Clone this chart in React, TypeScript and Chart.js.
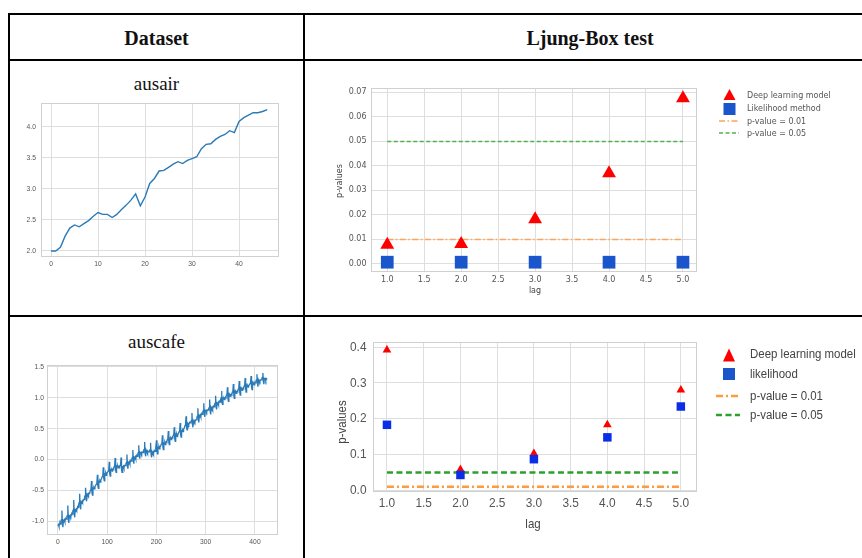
import React, { useEffect, useRef } from "react";
import { Chart, registerables } from "chart.js";
Chart.register(...registerables);

// ---------- data ----------
const ausairValues = [2.0, 2.0, 2.06, 2.24, 2.37, 2.42, 2.39, 2.44, 2.49, 2.56, 2.62, 2.59, 2.59, 2.54, 2.59, 2.67, 2.74, 2.82, 2.92, 2.73, 2.87, 3.09, 3.17, 3.29, 3.3, 3.35, 3.4, 3.44, 3.41, 3.46, 3.49, 3.52, 3.65, 3.72, 3.73, 3.8, 3.85, 3.88, 3.94, 3.91, 4.09, 4.15, 4.19, 4.23, 4.23, 4.25, 4.28];
const ausairXTicks = [0, 10, 20, 30, 40];
const ausairYTicks = [2.0, 2.5, 3.0, 3.5, 4.0];

const auscafeValues = [
  -1.08, -1.06, -1.09, -1.05, -1.03, -1.05, -1.0, -0.98, -0.83, -1.05, -1.1, -0.99,
  -1.0, -0.98, -1.01, -0.97, -0.96, -0.97, -0.93, -0.91, -0.75, -0.98, -1.03, -0.92,
  -0.93, -0.91, -0.93, -0.9, -0.88, -0.89, -0.84, -0.82, -0.66, -0.89, -0.94, -0.82,
  -0.83, -0.81, -0.83, -0.79, -0.77, -0.78, -0.73, -0.7, -0.56, -0.76, -0.81, -0.69,
  -0.7, -0.68, -0.7, -0.66, -0.65, -0.65, -0.61, -0.59, -0.46, -0.64, -0.68, -0.57,
  -0.58, -0.56, -0.58, -0.55, -0.54, -0.54, -0.5, -0.48, -0.35, -0.54, -0.58, -0.47,
  -0.48, -0.46, -0.48, -0.44, -0.43, -0.43, -0.4, -0.38, -0.25, -0.43, -0.47, -0.36,
  -0.37, -0.35, -0.37, -0.33, -0.32, -0.32, -0.28, -0.26, -0.13, -0.31, -0.35, -0.24,
  -0.25, -0.23, -0.26, -0.22, -0.22, -0.22, -0.19, -0.17, -0.04, -0.23, -0.27, -0.17,
  -0.18, -0.17, -0.19, -0.16, -0.15, -0.16, -0.12, -0.11, 0.02, -0.17, -0.21, -0.11,
  -0.12, -0.11, -0.14, -0.11, -0.11, -0.12, -0.1, -0.09, 0.03, -0.16, -0.21, -0.11,
  -0.13, -0.11, -0.14, -0.1, -0.1, -0.1, -0.07, -0.05, 0.08, -0.11, -0.15, -0.05,
  -0.06, -0.04, -0.07, -0.03, -0.02, -0.03, 0.01, 0.03, 0.15, -0.03, -0.07, 0.03,
  0.02, 0.04, 0.01, 0.05, 0.06, 0.05, 0.09, 0.11, 0.23, 0.05, 0.01, 0.11,
  0.1, 0.11, 0.09, 0.12, 0.12, 0.11, 0.15, 0.16, 0.28, 0.09, 0.05, 0.15,
  0.13, 0.14, 0.11, 0.13, 0.13, 0.12, 0.15, 0.15, 0.27, 0.08, 0.03, 0.12,
  0.1, 0.12, 0.09, 0.13, 0.14, 0.13, 0.17, 0.19, 0.31, 0.13, 0.09, 0.19,
  0.18, 0.2, 0.17, 0.21, 0.21, 0.21, 0.25, 0.26, 0.39, 0.2, 0.16, 0.26,
  0.25, 0.27, 0.24, 0.28, 0.29, 0.28, 0.32, 0.34, 0.46, 0.28, 0.24, 0.34,
  0.33, 0.34, 0.32, 0.35, 0.36, 0.35, 0.39, 0.4, 0.52, 0.34, 0.29, 0.4,
  0.38, 0.4, 0.37, 0.41, 0.41, 0.41, 0.45, 0.46, 0.59, 0.4, 0.36, 0.46,
  0.45, 0.47, 0.45, 0.49, 0.5, 0.5, 0.55, 0.57, 0.7, 0.52, 0.48, 0.59,
  0.58, 0.59, 0.56, 0.6, 0.6, 0.59, 0.62, 0.63, 0.75, 0.57, 0.52, 0.62,
  0.6, 0.62, 0.6, 0.64, 0.64, 0.64, 0.68, 0.7, 0.83, 0.65, 0.6, 0.71,
  0.7, 0.72, 0.69, 0.73, 0.74, 0.73, 0.77, 0.79, 0.91, 0.73, 0.69, 0.79,
  0.78, 0.79, 0.77, 0.8, 0.8, 0.8, 0.83, 0.84, 0.97, 0.78, 0.73, 0.84,
  0.82, 0.84, 0.81, 0.85, 0.86, 0.85, 0.89, 0.91, 1.03, 0.85, 0.81, 0.91,
  0.9, 0.92, 0.89, 0.93, 0.94, 0.93, 0.97, 0.99, 1.11, 0.93, 0.89, 0.99,
  0.98, 0.99, 0.97, 1.0, 1.01, 1.0, 1.04, 1.05, 1.17, 0.99, 0.94, 1.05,
  1.03, 1.04, 1.02, 1.05, 1.06, 1.05, 1.09, 1.1, 1.22, 1.04, 0.99, 1.1,
  1.08, 1.09, 1.07, 1.1, 1.11, 1.1, 1.14, 1.15, 1.27, 1.09, 1.04, 1.15,
  1.13, 1.14, 1.12, 1.15, 1.16, 1.15, 1.19, 1.2, 1.32, 1.14, 1.09, 1.2,
  1.18, 1.19, 1.17, 1.2, 1.2, 1.2, 1.23, 1.24, 1.35, 1.18, 1.13, 1.24,
  1.22, 1.23, 1.21, 1.24, 1.25, 1.24, 1.28, 1.29, 1.38, 1.23, 1.18, 1.29,
  1.27, 1.28, 1.26, 1.29, 1.29, 1.29, 1.32, 1.33, 1.4, 1.26, 1.22, 1.31,
  1.3, 1.31, 1.28, 1.31, 1.31, 1.3,
];
const auscafeXTicks = [0, 100, 200, 300, 400];
const auscafeYTicks = [-1.0, -0.5, 0.0, 0.5, 1.0, 1.5];

const lags = [1.0, 2.0, 3.0, 4.0, 5.0];
const lagTicks = [1.0, 1.5, 2.0, 2.5, 3.0, 3.5, 4.0, 4.5, 5.0];
const ausairDeep = [0.0078, 0.0081, 0.0182, 0.037, 0.0676];
const ausairLikelihood = [0.0007, 0.0007, 0.0007, 0.0007, 0.0007];
const ausairPTicks = [0.0, 0.01, 0.02, 0.03, 0.04, 0.05, 0.06, 0.07];
const auscafeDeep = [0.392, 0.058, 0.103, 0.183, 0.28];
const auscafeLikelihood = [0.183, 0.043, 0.087, 0.148, 0.234];
const auscafePTicks = [0.0, 0.1, 0.2, 0.3, 0.4];
const pLevels = [0.01, 0.05];

// ---------- styles ----------
const GRID = "#dedede";
const TICK = "#555555";
const RED = "#ff0000";
const BLUE1 = "#1a55cc";
const BLUE2 = "#0a2ee8";
const ORANGE = "#ff9a40";
const GREEN = "#2ca02c";
const SANS = '"Liberation Sans", Arial, sans-serif';
const DEJAVU = '"DejaVu Sans", sans-serif';
const SERIF = '"Liberation Serif", "Times New Roman", serif';

const framePlugin = {
  id: "frame",
  beforeDatasetsDraw(chart: any) {
    const { ctx, chartArea: a } = chart;
    ctx.save();
    ctx.strokeStyle = "#d0d0d0";
    ctx.lineWidth = 1;
    ctx.strokeRect(Math.round(a.left) + 0.5, Math.round(a.top) + 0.5, Math.round(a.right - a.left) - 1, Math.round(a.bottom - a.top) - 1);
    ctx.restore();
  },
};

// draws tick labels and axis titles with an optional horizontal condensing factor
const textPlugin = {
  id: "axisText",
  afterDraw(chart: any, _args: any, o: any) {
    const { ctx, chartArea: a, scales } = chart;
    const k = o.k ?? 1;
    ctx.save();
    ctx.fillStyle = TICK;
    ctx.font = `${o.size}px ${o.family}`;
    ctx.textAlign = "center";
    ctx.textBaseline = "middle";
    for (const t of scales.x.ticks) {
      const px = scales.x.getPixelForValue(t.value);
      ctx.save();
      ctx.translate(px, a.bottom + o.xOff);
      ctx.scale(k, 1);
      ctx.fillText(Number(t.value).toFixed(o.xDec), 0, 0);
      ctx.restore();
    }
    ctx.textAlign = "right";
    for (const t of scales.y.ticks) {
      const py = scales.y.getPixelForValue(t.value);
      ctx.save();
      ctx.translate(a.left - o.yOff, py);
      ctx.scale(k, 1);
      ctx.fillText(Number(t.value).toFixed(o.yDec), 0, 0);
      ctx.restore();
    }
    ctx.fillStyle = "#444";
    ctx.textAlign = "center";
    if (o.xTitle) {
      ctx.font = `${o.titleSize}px ${o.family}`;
      ctx.save();
      ctx.translate(o.xTitle.x, o.xTitle.y);
      ctx.scale(o.tk ?? k, 1);
      ctx.fillText(o.xTitle.text, 0, 0);
      ctx.restore();
    }
    if (o.yTitle) {
      ctx.font = `${o.titleSize}px ${o.family}`;
      ctx.save();
      ctx.translate(o.yTitle.x, o.yTitle.y);
      ctx.rotate(-Math.PI / 2);
      ctx.scale(o.tk ?? k, 1);
      ctx.fillText(o.yTitle.text, 0, 0);
      ctx.restore();
    }
    ctx.restore();
  },
};

function axis(min: number, max: number, ticks: number[], fit: { width?: number; height?: number }) {
  return {
    type: "linear",
    min,
    max,
    afterBuildTicks: (s: any) => {
      s.ticks = ticks.map((v: number) => ({ value: v }));
    },
    afterFit: (s: any) => {
      if (fit.width !== undefined) s.width = fit.width;
      if (fit.height !== undefined) s.height = fit.height;
    },
    ticks: { display: false },
    grid: { color: GRID, drawTicks: false, lineWidth: 1 },
    border: { display: false },
    title: { display: false },
  };
}

function baseOptions(pad: any, x: any, y: any, text: any) {
  return {
    responsive: false,
    animation: false,
    events: [],
    layout: { padding: pad },
    plugins: { legend: { display: false }, tooltip: { enabled: false }, title: { display: false }, axisText: text },
    scales: { x, y },
  };
}

function seriesLine(values: number[], width: number) {
  return {
    data: values.map((v, i) => ({ x: i, y: v })),
    showLine: true,
    borderColor: "#2a7ab8",
    borderWidth: width,
    pointRadius: 0,
  };
}

function levelLine(level: number, color: string, dash: number[], width: number) {
  return {
    data: [
      { x: lags[0], y: level },
      { x: lags[lags.length - 1], y: level },
    ],
    showLine: true,
    borderColor: color,
    borderDash: dash,
    borderWidth: width,
    pointRadius: 0,
    order: 3,
  };
}

function markers(values: number[], style: string, color: string, radius: number, order: number) {
  return {
    data: values.map((v, i) => ({ x: lags[i], y: v })),
    showLine: false,
    pointStyle: style,
    pointRadius: radius,
    backgroundColor: color,
    borderColor: color,
    borderWidth: 0,
    order,
  };
}

const configs: Record<string, () => any> = {
  ausair: () => ({
    type: "scatter",
    data: { datasets: [seriesLine(ausairValues, 1.4)] },
    options: baseOptions(
      { left: 0, right: 9, top: 7, bottom: 0 },
      axis(-2.13, 48.5, ausairXTicks, { height: 15 }),
      axis(1.903, 4.387, ausairYTicks, { width: 29 }),
      { family: SANS, size: 7.5, k: 0.9, xOff: 6.5, yOff: 5, xDec: 0, yDec: 1 }
    ),
    plugins: [framePlugin, textPlugin],
  }),
  auscafe: () => ({
    type: "scatter",
    data: { datasets: [seriesLine(auscafeValues, 1.3)] },
    options: baseOptions(
      { left: 0, right: 10, top: 7, bottom: 0 },
      axis(-22.3, 446.7, auscafeXTicks, { height: 15 }),
      axis(-1.227, 1.53, auscafeYTicks, { width: 35 }),
      { family: SANS, size: 7.5, k: 0.9, xOff: 6.7, yOff: 3, xDec: 0, yDec: 1 }
    ),
    plugins: [framePlugin, textPlugin],
  }),
  lb1: () => ({
    type: "scatter",
    data: {
      datasets: [
        markers(ausairLikelihood, "rect", BLUE1, 9, 0),
        markers(ausairDeep, "triangle", RED, 8, 1),
        levelLine(pLevels[0], "#ffa25a", [6, 2.5, 1.5, 2.5], 1.5),
        levelLine(pLevels[1], "#4db34d", [4, 2.5], 1.5),
      ],
    },
    options: baseOptions(
      { left: 0, right: 7, top: 10, bottom: 0 },
      axis(0.78, 5.19, lagTicks, { height: 36 }),
      axis(-0.0033, 0.0718, ausairPTicks, { width: 65 }),
      {
        family: DEJAVU, size: 8, k: 1, xOff: 7.5, yOff: 4.5, xDec: 1, yDec: 2, titleSize: 8,
        xTitle: { text: "lag", x: 229, y: 213 },
        yTitle: { text: "p-values", x: 34, y: 103 },
      }
    ),
    plugins: [framePlugin, textPlugin],
  }),
  lb2: () => ({
    type: "scatter",
    data: {
      datasets: [
        markers(auscafeLikelihood, "rect", BLUE2, 6, 0),
        markers(auscafeDeep, "triangle", RED, 5, 1),
        levelLine(pLevels[0], ORANGE, [7, 3, 2, 3], 2.5),
        levelLine(pLevels[1], GREEN, [6, 3.5], 2.5),
      ],
    },
    options: baseOptions(
      { left: 0, right: 9, top: 8, bottom: 0 },
      axis(0.81, 5.22, lagTicks, { height: 47 }),
      axis(-0.0045, 0.414, auscafePTicks, { width: 67 }),
      {
        family: SANS, size: 13.5, k: 0.88, tk: 0.85, xOff: 11, yOff: 6.5, xDec: 1, yDec: 1, titleSize: 13.5,
        xTitle: { text: "lag", x: 227, y: 190 },
        yTitle: { text: "p-values", x: 36, y: 88 },
      }
    ),
    plugins: [framePlugin, textPlugin],
  }),
};

function ChartBox({ name, left, top, width, height }: any) {
  const ref = useRef<HTMLCanvasElement>(null);
  useEffect(() => {
    const chart = new Chart(ref.current as HTMLCanvasElement, configs[name]());
    return () => chart.destroy();
  }, [name]);
  return (
    <div style={{ position: "absolute", left, top, width, height }}>
      <canvas ref={ref} width={width} height={height} style={{ width, height, display: "block" }} />
    </div>
  );
}

function LegendText({ x, y, k, children }: any) {
  return (
    <text transform={`translate(${x},${y}) scale(${k},1)`} dominantBaseline="central">
      {children}
    </text>
  );
}

function Legend({ small }: { small: boolean }) {
  if (small) {
    const tx = 747;
    return (
      <g fontFamily={DEJAVU} fontSize={8} fill="#555">
        <polygon points="729.5,89 723.5,100 735.5,100" fill={RED} />
        <rect x={723.5} y={103} width={12} height={12} fill={BLUE1} />
        <line x1={719} x2={739} y1={121} y2={121} stroke="#ffa25a" strokeWidth={1.5} strokeDasharray="6 2.5 1.5 2.5" />
        <line x1={719} x2={739} y1={133} y2={133} stroke="#4db34d" strokeWidth={1.5} strokeDasharray="4 2.5" />
        <LegendText x={tx} y={95} k={1}>Deep learning model</LegendText>
        <LegendText x={tx} y={108.5} k={1}>Likelihood method</LegendText>
        <LegendText x={tx} y={121.5} k={1}>p-value = 0.01</LegendText>
        <LegendText x={tx} y={133} k={1}>p-value = 0.05</LegendText>
      </g>
    );
  }
  const tx = 750;
  const k = 0.85;
  return (
    <g fontFamily={SANS} fontSize={13.5} fill="#444">
      <polygon points="729,348.5 723,361.5 735,361.5" fill={RED} />
      <rect x={723} y={368} width={12} height={12} fill={BLUE1} />
      <line x1={716} x2={740} y1={396} y2={396} stroke={ORANGE} strokeWidth={2.5} strokeDasharray="7 3 2 3" />
      <line x1={716} x2={740} y1={415} y2={415} stroke={GREEN} strokeWidth={2.5} strokeDasharray="6 3.5" />
      <LegendText x={tx} y={354} k={k}>Deep learning model</LegendText>
      <LegendText x={tx} y={374} k={k}>likelihood</LegendText>
      <LegendText x={tx} y={395.5} k={k}>p-value = 0.01</LegendText>
      <LegendText x={tx} y={415} k={k}>p-value = 0.05</LegendText>
    </g>
  );
}

const line = (l: number, t: number, w: number, h: number) => (
  <div style={{ position: "absolute", left: l, top: t, width: w, height: h, background: "#000" }} />
);

export default function App() {
  const text = (s: string, l: number, w: number, cy: number, size: number, bold: boolean) => (
    <div
      style={{
        position: "absolute",
        left: l,
        width: w,
        top: cy - size / 2,
        height: size,
        lineHeight: `${size}px`,
        fontSize: size,
        fontFamily: SERIF,
        fontWeight: bold ? 700 : 400,
        textAlign: "center",
        color: "#111",
        whiteSpace: "nowrap",
      }}
    >
      {s}
    </div>
  );
  return (
    <div style={{ position: "absolute", left: 0, top: 0, width: 862, height: 558, overflow: "hidden", background: "#fff" }}>
      {line(8, 13, 880, 2)}
      {line(8, 59, 880, 2)}
      {line(8, 315, 880, 2)}
      {line(8, 13, 2, 560)}
      {line(303, 13, 2, 560)}
      {text("Dataset", 10, 293, 38, 20, true)}
      {text("Ljung-Box test", 305, 570, 38, 20, true)}
      {text("ausair", 10, 293, 83, 19, false)}
      {text("auscafe", 10, 293, 341, 19, false)}
      <ChartBox name="ausair" left={12} top={96} width={276} height={176} />
      <ChartBox name="auscafe" left={12} top={358} width={276} height={192} />
      <ChartBox name="lb1" left={306} top={78} width={400} height={230} />
      <ChartBox name="lb2" left={306} top={334} width={400} height={205} />
      <svg width={862} height={558} style={{ position: "absolute", left: 0, top: 0, pointerEvents: "none" }}>
        <Legend small={true} />
        <Legend small={false} />
      </svg>
    </div>
  );
}
